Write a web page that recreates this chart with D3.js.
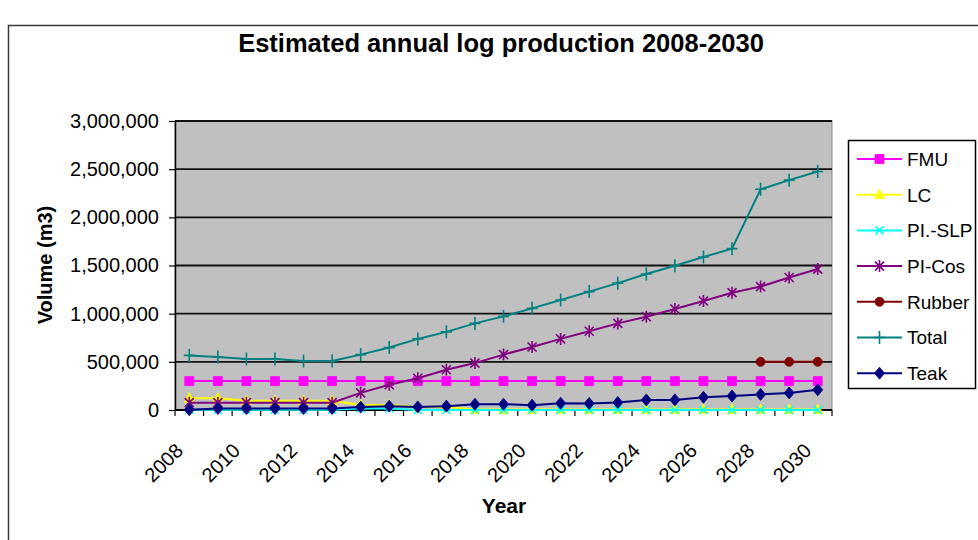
<!DOCTYPE html>
<html>
<head>
<meta charset="utf-8">
<script src="https://cdn.jsdelivr.net/npm/d3@7"></script>
<style>
  html, body { margin: 0; padding: 0; background: #fff; }
  svg { display: block; font-family: "Liberation Sans", Arial, sans-serif; }
</style>
</head>
<body>
<svg id="chart" width="978" height="540"></svg>
<script>
// Categories and series (cubic metres per year)
const years = ["2008","2009","2010","2011","2012","2013","2014","2015","2016","2017","2018","2019",
               "2020","2021","2022","2023","2024","2025","2026","2027","2028","2029","2030"];
const yearLabels = ["2008","2010","2012","2014","2016","2018","2020","2022","2024","2026","2028","2030"];
const yTicks = [0, 500000, 1000000, 1500000, 2000000, 2500000, 3000000];

const fmu    = [300000,300000,300000,300000,300000,300000,300000,300000,300000,300000,300000,300000,
                300000,300000,300000,300000,300000,300000,300000,300000,300000,300000,300000];
const lc     = [122000,122000,97000,97000,97000,97000,52000,52000,30000,30000,5000,5000,
                5000,5000,5000,5000,5000,5000,5000,5000,5000,5000,5000];
const plSlp  = [3000,3000,3000,3000,3000,3000,15000,15000,0,0,0,0,
                0,0,0,0,0,0,0,0,0,0,0];
const piCos  = [76000,76000,76000,76000,76000,76000,178000,262000,330000,418000,487000,575000,
                654000,738000,818000,899000,968000,1048000,1132000,1218000,1281000,1375000,1463000];
const rubber = [null,null,null,null,null,null,null,null,null,null,null,null,
                null,null,null,null,null,null,null,null,500000,500000,500000];
const total  = [567000,550000,529000,529000,508000,508000,575000,648000,738000,811000,899000,972000,
                1055000,1142000,1229000,1317000,1411000,1497000,1588000,1675000,2291000,2386000,2476000];
const teak   = [3000,15000,15000,15000,15000,15000,30000,40000,32000,40000,60000,60000,
                50000,70000,68000,78000,105000,105000,132000,145000,162000,177000,209000];

const seriesNames = ["FMU","LC","PI.-SLP","PI-Cos","Rubber","Total","Teak"];
const seriesValues = [fmu, lc, plSlp, piCos, rubber, total, teak];
const seriesColors = ["#FF00FF","#FFFF00","#00FFFF","#800080","#800000","#008080","#000080"];
const seriesMarkers = ["square","triangle","x","asterisk","circle","plus","diamond"];

const svg = d3.select("#chart");
const W = 978, H = 540;
const plot = { left: 175, right: 832, top: 121, bottom: 410 };

// Chart frame
svg.append("rect").attr("width", W).attr("height", H).attr("fill", "#fff");
svg.append("path")
  .attr("d", `M8.5,${H} V25.5 H${W}`)
  .attr("fill", "none").attr("stroke", "#3a3a3a").attr("stroke-width", 1.5);

// Title
svg.append("text")
  .attr("x", 501).attr("y", 52)
  .attr("text-anchor", "middle")
  .attr("font-weight", "bold").attr("font-size", 25.5)
  .text("Estimated annual log production 2008-2030");

const x = d3.scaleBand().domain(years).range([plot.left, plot.right]).padding(0);
const y = d3.scaleLinear().domain([0, 3000000]).range([plot.bottom, plot.top]);
const cx = d => x(d) + x.bandwidth() / 2;

// Plot area
svg.append("rect")
  .attr("x", plot.left).attr("y", plot.top)
  .attr("width", plot.right - plot.left).attr("height", plot.bottom - plot.top)
  .attr("fill", "#C0C0C0").attr("stroke", "#8a8a8a").attr("stroke-width", 1);

// Horizontal gridlines
svg.append("g").selectAll("line")
  .data(yTicks.filter(v => v > 0))
  .join("line")
  .attr("x1", plot.left).attr("x2", plot.right)
  .attr("y1", d => y(d)).attr("y2", d => y(d))
  .attr("stroke", "#111").attr("stroke-width", 1.8);

// Y axis
const yAxis = svg.append("g")
  .attr("transform", `translate(${plot.left},0)`)
  .call(d3.axisLeft(y).tickValues(yTicks).tickFormat(d3.format(",")).tickSize(6).tickPadding(10).tickSizeOuter(0));
yAxis.select(".domain").attr("stroke", "#000").attr("stroke-width", 1.5);
yAxis.selectAll(".tick line").attr("stroke", "#000").attr("stroke-width", 1.2);
yAxis.selectAll(".tick text")
  .attr("font-size", 20).attr("fill", "#000")
  .attr("font-family", "'Liberation Sans', Arial, sans-serif");

// X axis: ticks between categories
const xAxisG = svg.append("g");
xAxisG.append("line")
  .attr("x1", plot.left).attr("x2", plot.right)
  .attr("y1", plot.bottom).attr("y2", plot.bottom)
  .attr("stroke", "#000").attr("stroke-width", 1.8);
const boundaries = years.map(d => x(d)).concat([x(years[years.length - 1]) + x.bandwidth()]);
xAxisG.selectAll("line.tk")
  .data(boundaries)
  .join("line").attr("class", "tk")
  .attr("x1", d => d).attr("x2", d => d)
  .attr("y1", plot.bottom).attr("y2", plot.bottom + 6)
  .attr("stroke", "#000").attr("stroke-width", 1.2);
xAxisG.selectAll("text")
  .data(yearLabels)
  .join("text")
  .attr("transform", d => `translate(${cx(d) - 5},${plot.bottom + 42}) rotate(-45)`)
  .attr("text-anchor", "end")
  .attr("font-size", 20)
  .text(d => d);

// Axis titles
svg.append("text")
  .attr("transform", `translate(52,265) rotate(-90)`)
  .attr("text-anchor", "middle")
  .attr("font-weight", "bold").attr("font-size", 20)
  .text("Volume (m3)");
svg.append("text")
  .attr("x", 504).attr("y", 513)
  .attr("text-anchor", "middle")
  .attr("font-weight", "bold").attr("font-size", 21)
  .text("Year");

// Marker shapes
function markerPath(kind, s) {
  switch (kind) {
    case "square":   return `M${-4.5*s},${-4.5*s}h${9*s}v${9*s}h${-9*s}Z`;
    case "triangle": return `M0,${-5.5*s}L${5*s},${4*s}L${-5*s},${4*s}Z`;
    case "x":        return `M${-4*s},${-4*s}L${4*s},${4*s}M${-4*s},${4*s}L${4*s},${-4*s}`;
    case "asterisk": return `M${-4.5*s},${-4.5*s}L${4.5*s},${4.5*s}M${-4.5*s},${4.5*s}L${4.5*s},${-4.5*s}M0,${-6*s}V${6*s}`;
    case "circle":   return d3.arc()({innerRadius: 0, outerRadius: 4.5*s, startAngle: 0, endAngle: 2*Math.PI});
    case "plus":     return `M${-5.5*s},0H${5.5*s}M0,${-6.5*s}V${6.5*s}`;
    case "diamond":  return `M0,${-6*s}L${5*s},0L0,${6*s}L${-5*s},0Z`;
  }
}
const filledKinds = new Set(["square","triangle","circle","diamond"]);

function drawMarker(g, kind, color, px, py) {
  const p = g.append("path")
    .attr("transform", `translate(${px},${py})`)
    .attr("d", markerPath(kind, 1));
  if (filledKinds.has(kind)) p.attr("fill", color).attr("stroke", color).attr("stroke-width", 0.8);
  else p.attr("fill", "none").attr("stroke", color).attr("stroke-width", 1.6);
}

// Series lines and markers
const line = d3.line()
  .defined(d => d.v !== null)
  .x(d => cx(d.year))
  .y(d => y(d.v));

seriesNames.forEach((name, i) => {
  const pts = years.map((yr, j) => ({ year: yr, v: seriesValues[i][j] }));
  const g = svg.append("g");
  g.append("path")
    .datum(pts)
    .attr("d", line)
    .attr("fill", "none")
    .attr("stroke", seriesColors[i])
    .attr("stroke-width", 2);
  pts.filter(p => p.v !== null).forEach(p => drawMarker(g, seriesMarkers[i], seriesColors[i], cx(p.year), y(p.v)));
});

// Legend
const lg = svg.append("g");
lg.append("rect")
  .attr("x", 848.5).attr("y", 140.5).attr("width", 127).attr("height", 248)
  .attr("fill", "#fff").attr("stroke", "#000").attr("stroke-width", 1.5);
seriesNames.forEach((name, i) => {
  const ly = 159 + i * 35.7;
  lg.append("line")
    .attr("x1", 857).attr("x2", 902).attr("y1", ly).attr("y2", ly)
    .attr("stroke", seriesColors[i]).attr("stroke-width", 2);
  drawMarker(lg, seriesMarkers[i], seriesColors[i], 879.5, ly);
  lg.append("text")
    .attr("x", 907).attr("y", ly).attr("dy", "0.36em")
    .attr("font-size", 19)
    .text(name);
});
</script>
</body>
</html>
